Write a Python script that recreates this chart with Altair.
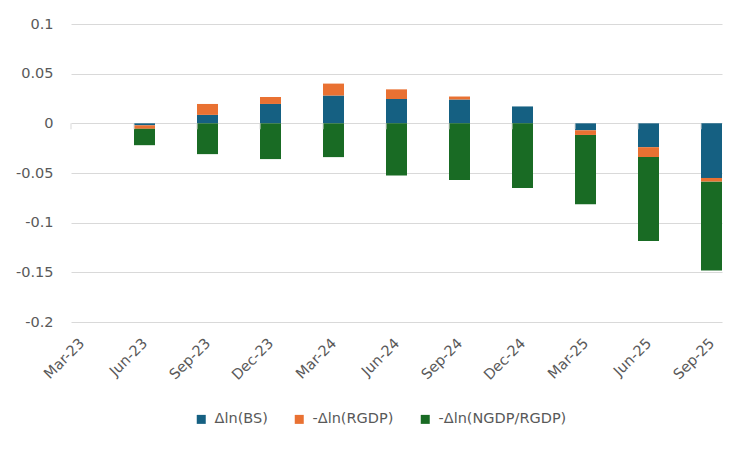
import altair as alt
import pandas as pd

dates = ["Mar-23", "Jun-23", "Sep-23", "Dec-23", "Mar-24", "Jun-24",
         "Sep-24", "Dec-24", "Mar-25", "Jun-25", "Sep-25"]
series = ["Δln(BS)", "-Δln(RGDP)", "-Δln(NGDP/RGDP)"]
bs = [None, -0.002, 0.0085, 0.0195, 0.028, 0.0245, 0.024, 0.017, -0.007, -0.024, -0.055]
rgdp = [None, -0.0035, 0.011, 0.007, 0.012, 0.0097, 0.003, 0.0, -0.0047, -0.010, -0.0037]
ngdp = [None, -0.0165, -0.031, -0.036, -0.034, -0.0525, -0.057, -0.065, -0.0697, -0.0845, -0.0895]
y_ticks = [-0.2, -0.15, -0.1, -0.05, 0, 0.05, 0.1]
colors = ["#156082", "#E97132", "#196B24"]

rows = []
for i, d in enumerate(dates):
    for k, vals in enumerate([bs, rgdp, ngdp]):
        v = vals[i]
        if v is not None and v != 0:
            rows.append({"date": d, "series": series[k], "order": k, "value": v})
df = pd.DataFrame(rows)
tick_df = pd.DataFrame({"date": dates})

FONT = "DejaVu Sans"
TXT = "#595959"
GRID = "#D9D9D9"

xscale = alt.Scale(domain=dates, paddingInner=2 / 3, paddingOuter=0)
yscale = alt.Scale(domain=[-0.2, 0.1], nice=False)

bars = alt.Chart(df).mark_bar().encode(
    x=alt.X("date:N", sort=dates, scale=xscale,
            axis=alt.Axis(title=None, labelAngle=-45, domain=False, ticks=False,
                          grid=False, labelPadding=14, labelOffset=-4,
                          labelColor=TXT, labelFont=FONT, labelFontSize=14.5)),
    y=alt.Y("value:Q", scale=yscale, stack="zero",
            axis=alt.Axis(title=None, values=y_ticks, domain=False, ticks=False,
                          grid=True, gridColor=GRID, gridWidth=1, labelPadding=18,
                          labelColor=TXT, labelFont=FONT, labelFontSize=14.5,
                          labelExpr="replace(format(datum.value, '~g'), '\u2212', '-')")),
    color=alt.Color("series:N", scale=alt.Scale(domain=series, range=colors),
                    legend=alt.Legend(title=None, orient="none", direction="horizontal",
                                      legendX=123, legendY=388, padding=0,
                                      symbolType="square", symbolSize=81,
                                      symbolStrokeWidth=0, labelOffset=6,
                                      columnPadding=24, labelColor=TXT,
                                      labelFont=FONT, labelFontSize=14.5)),
    order=alt.Order("order:Q", sort="ascending"),
)

ticks = alt.Chart(tick_df).mark_rule(color=GRID, strokeWidth=1).encode(
    x=alt.X("date:N", sort=dates, scale=xscale, bandPosition=0),
    y=alt.datum(0),
    y2=alt.datum(-0.006),
)

chart = alt.layer(bars, ticks).properties(
    width=651, height=298,
    background="white",
    autosize=alt.AutoSizeParams(type="none"),
    padding={"left": 63, "top": 16, "right": 21, "bottom": 122},
).configure_view(
    stroke=None, strokeWidth=0
).configure_axis(
    domain=False
)

chart.save("out.html", embed_options={"renderer": "svg", "actions": False})
